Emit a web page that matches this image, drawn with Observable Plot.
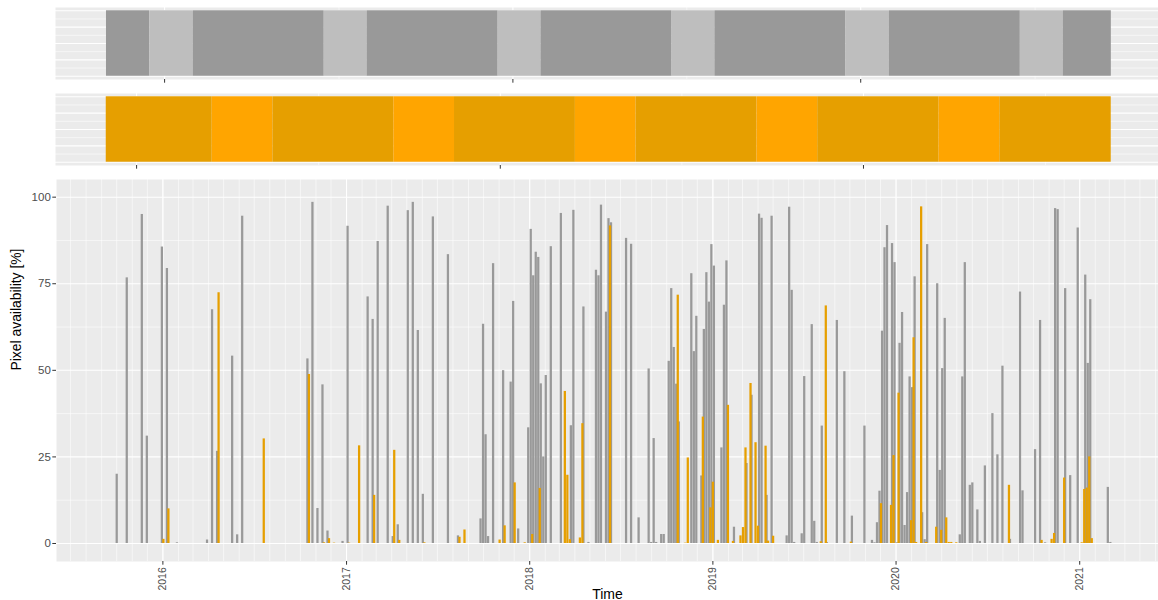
<!DOCTYPE html>
<html>
<head>
<meta charset="utf-8">
<script src="https://cdn.jsdelivr.net/npm/d3@7"></script>
<script src="https://cdn.jsdelivr.net/npm/@observablehq/plot@0.6"></script>
<style>
  body { margin: 0; background: #ffffff; }
  #chart svg { display: block; }
</style>
</head>
<body>
<div id="chart"></div>
<script>
// ---- Acquisition dates and pixel availability (%) -------------------------
const greyDates = [
  "2015-10-02","2015-10-22","2015-11-21","2015-12-01","2015-12-31","2016-01-10","2016-01-30",
  "2016-03-30","2016-04-09","2016-04-19","2016-05-19","2016-05-29","2016-06-08",
  "2016-10-16","2016-10-26","2016-11-05","2016-11-15","2016-11-25","2016-12-25",
  "2017-01-04","2017-02-13","2017-02-23","2017-03-05","2017-03-25","2017-04-04","2017-04-14",
  "2017-05-04","2017-05-14","2017-05-24","2017-06-03","2017-06-23","2017-07-23","2017-08-12",
  "2017-09-26","2017-10-01","2017-10-06","2017-10-11","2017-10-21","2017-11-10","2017-11-25",
  "2017-11-30","2017-12-10","2017-12-30",
  "2018-01-04","2018-01-09","2018-01-14","2018-01-19","2018-01-24","2018-01-29","2018-02-03",
  "2018-02-13","2018-03-05","2018-03-25","2018-03-30","2018-04-19","2018-04-29","2018-05-14",
  "2018-05-19","2018-05-24","2018-06-03","2018-06-08","2018-06-13","2018-07-13","2018-07-23",
  "2018-08-07","2018-08-27","2018-09-01","2018-09-06","2018-09-11","2018-09-21","2018-09-26",
  "2018-10-06","2018-10-11","2018-10-16","2018-10-21","2018-10-26","2018-11-20","2018-11-25",
  "2018-11-30","2018-12-10","2018-12-15","2018-12-20","2018-12-25","2018-12-30",
  "2019-01-04","2019-01-19","2019-01-24","2019-01-29","2019-02-13","2019-03-10","2019-03-20",
  "2019-04-04","2019-04-09","2019-04-19","2019-04-29","2019-05-29","2019-06-03","2019-06-08",
  "2019-06-13","2019-06-28","2019-07-03","2019-07-18","2019-07-23","2019-07-28","2019-08-07",
  "2019-08-17","2019-09-06","2019-09-21","2019-10-06","2019-10-31","2019-11-15","2019-11-20",
  "2019-11-25","2019-11-30","2019-12-05","2019-12-10","2019-12-15","2019-12-25","2019-12-30",
  "2020-01-04","2020-01-09","2020-01-14","2020-01-19","2020-01-24","2020-01-29","2020-02-03",
  "2020-02-08","2020-02-23","2020-02-28","2020-03-04","2020-03-24","2020-03-29","2020-04-03",
  "2020-04-08","2020-05-08","2020-05-13","2020-05-18","2020-05-28","2020-06-02","2020-06-12",
  "2020-06-17","2020-06-27","2020-07-12","2020-07-22","2020-08-01","2020-08-16","2020-09-05",
  "2020-09-10","2020-10-05","2020-10-15","2020-10-25","2020-11-14","2020-11-19","2020-12-04",
  "2020-12-14","2020-12-29",
  "2021-01-13","2021-01-18","2021-01-23","2021-02-27","2021-03-04"
];
const greyValues = [
  20.0, 76.7, 95.0, 31.0, 85.6, 79.4, 0.2,
  1.0, 67.5, 26.6, 54.1, 2.5, 94.5,
  53.3, 98.5, 10.1, 45.8, 3.6, 0.6,
  91.6, 71.2, 64.7, 87.2, 97.4, 2.0, 5.4,
  96.1, 98.5, 61.5, 14.2, 94.3, 83.4, 2.2,
  7.1, 63.3, 31.4, 2.0, 80.8, 49.9, 46.6,
  69.9, 4.2, 33.4,
  90.7, 77.3, 84.1, 82.6, 46.1, 25.0, 48.5,
  85.7, 95.3, 34.0, 96.2, 68.3, 0.3, 78.9,
  77.3, 97.7, 66.8, 93.8, 92.6, 88.1, 86.4,
  7.4, 50.4, 0.3, 30.3, 0.3, 2.6, 2.6,
  52.6, 73.6, 56.6, 46.0, 35.1, 77.9, 55.4,
  65.6, 19.5, 61.8, 78.2, 69.7, 86.3,
  80.1, 27.6, 68.8, 81.6, 4.7, 23.1, 42.8,
  95.1, 93.9, 13.9, 94.5, 2.2, 97.1, 73.1,
  0.3, 2.8, 48.2, 63.2, 6.4, 0.3, 33.9,
  0.3, 64.4, 49.6, 7.9, 33.9, 0.9, 0.2,
  6.0, 15.1, 61.3, 85.4, 91.8, 86.6, 81.1,
  0.2, 57.8, 66.7, 5.2, 14.7, 48.1, 45.0,
  77.0, 8.9, 1.1, 86.3, 75.0, 21.1, 50.5,
  65.0, 2.5, 48.1, 81.1, 16.8, 17.5, 9.7,
  0.6, 22.4, 37.5, 25.6, 51.2, 1.2, 72.6,
  15.2, 27.1, 64.4, 0.2, 96.7, 96.4, 73.6,
  19.6, 91.1,
  77.5, 52.0, 70.4, 16.2, 0.3
];

const orangeDates = [
  "2016-01-03","2016-01-13","2016-04-22","2016-07-21","2016-10-19","2016-11-18","2016-11-28",
  "2016-12-08","2017-01-07","2017-01-27","2017-02-26","2017-04-07","2017-04-17","2017-06-06",
  "2017-08-15","2017-08-25","2017-11-03","2017-11-13","2017-12-03","2017-12-23",
  "2018-01-07","2018-01-22","2018-03-13","2018-03-18","2018-03-23","2018-04-12","2018-04-17",
  "2018-06-11","2018-10-24","2018-11-08","2018-11-13","2018-12-13","2018-12-28",
  "2019-01-02","2019-01-12","2019-02-01","2019-02-11","2019-02-26","2019-03-03","2019-03-08",
  "2019-03-18","2019-03-28","2019-04-02","2019-04-17","2019-04-22","2019-05-02","2019-08-05",
  "2019-08-15","2019-10-04","2019-12-03","2019-12-23","2019-12-28",
  "2020-01-07","2020-02-01","2020-02-06","2020-02-11","2020-02-21","2020-03-02","2020-03-22",
  "2020-04-01","2020-04-11","2020-04-16","2020-04-21","2020-05-01","2020-08-14","2020-10-18",
  "2020-11-07","2020-11-12","2020-12-02",
  "2021-01-06","2021-01-11","2021-01-16","2021-01-21","2021-01-26"
];
const orangeValues = [
  1.2, 10.0, 72.4, 30.2, 48.8, 0.2, 1.4,
  0.1, 0.1, 28.2, 13.9, 26.9, 0.9, 0.2,
  1.8, 3.9, 1.0, 5.1, 17.5, 0.2,
  2.6, 15.9, 43.9, 19.7, 1.1, 1.6, 34.6,
  91.7, 71.7, 0.1, 24.7, 36.5, 10.3,
  17.7, 0.9, 39.9, 0.6, 2.2, 4.6, 27.6,
  46.2, 29.1, 5.0, 28.1, 0.7, 2.1, 0.5,
  68.6, 0.4, 11.5, 11.0, 25.4,
  43.4, 6.6, 59.4, 0.3, 97.2, 0.3, 4.7,
  3.8, 7.4, 0.3, 0.3, 0.2, 16.8, 0.9,
  1.2, 2.9, 18.9,
  0.2, 15.6, 16.0, 25.0, 1.4
];

// ---- Season strips ----------------------------------------------------------
// Winter (Dec–Feb) against the rest of the year
const winterEdges = [
  "2015-09-01","2015-12-01","2016-03-01","2016-12-01","2017-03-01","2017-12-01","2018-03-01",
  "2018-12-01","2019-03-01","2019-12-01","2020-03-01","2020-12-01","2021-03-01","2021-06-10"
];
const winterKinds = ["other","winter","other","winter","other","winter","other",
                     "winter","other","winter","other","winter","other"];

// Summer (Jun–Sep) against the rest of the year
const summerEdges = [
  "2015-11-01","2016-06-01","2016-10-01","2017-06-01","2017-10-01","2018-06-01",
  "2018-10-01","2019-06-01","2019-10-01","2020-06-01","2020-10-01","2021-05-13"
];
const summerKinds = ["other","summer","other","summer","other","summer",
                     "other","summer","other","summer","other"];

// ---- Axis text ---------------------------------------------------------------
const yTicks = [0, 25, 50, 75, 100];
const yMinorTicks = [12.5, 37.5, 62.5, 87.5];
const xTickYears = [2016, 2017, 2018, 2019, 2020, 2021];
const stripTickYears = [2016, 2018, 2020];
const stripMinorYears = [2017, 2019, 2021];
const yTitle = "Pixel availability [%]";
const xTitle = "Time";

// ---- Drawing -----------------------------------------------------------------
const parse = d3.utcParse("%Y-%m-%d");
const yearStart = y => new Date(Date.UTC(y, 0, 1));
const DAY = 864e5;
const HALF_BAR = 2.25 * DAY; // bars are 4.5 days wide

const W = 1158;
const FONT = "'Liberation Sans', Arial, Helvetica, sans-serif";
const PANEL_BG = "#EBEBEB";
const GRID = {stroke: "white", strokeOpacity: 1, strokeWidth: 1.07};
const GRID_MINOR = {stroke: "white", strokeOpacity: 1, strokeWidth: 0.55};

const greyBars = greyDates.map((d, i) => ({date: parse(d), value: greyValues[i]}));
const orangeBars = orangeDates.map((d, i) => ({date: parse(d), value: orangeValues[i]}));

function seasonStrip(edges, kinds, colors, domain) {
  const bands = kinds.map((k, i) => ({start: parse(edges[i]), end: parse(edges[i + 1]), kind: k}));
  return Plot.plot({
    width: W, height: 86,
    marginLeft: 55, marginRight: 0, marginTop: 7, marginBottom: 7,
    style: {fontFamily: FONT, background: "white", overflow: "visible"},
    x: {type: "utc", domain: domain.map(parse)},
    y: {domain: [-0.05, 1.05], axis: null},
    color: {type: "identity"},
    marks: [
      Plot.frame({fill: PANEL_BG, stroke: "none"}),
      Plot.gridY([0.125, 0.375, 0.625, 0.875], GRID_MINOR),
      Plot.gridY([0, 0.25, 0.5, 0.75, 1], GRID),
      Plot.gridX(stripMinorYears.map(yearStart), GRID_MINOR),
      Plot.gridX(stripTickYears.map(yearStart), GRID),
      Plot.rect(bands, {x1: "start", x2: "end", y1: 0, y2: 1, fill: d => colors[d.kind]}),
      Plot.axisX(stripTickYears.map(yearStart), {
        tickSize: 3.7, tickPadding: 2, tickFormat: () => "", stroke: "#333333", label: null
      })
    ]
  });
}

const winterStrip = seasonStrip(winterEdges, winterKinds,
  {other: "#999999", winter: "#BEBEBE"}, ["2015-05-17", "2021-09-17"]);
const summerStrip = seasonStrip(summerEdges, summerKinds,
  {other: "#E69F00", summer: "#FFA500"}, ["2015-07-22", "2021-08-16"]);

const mainDomain = ["2015-06-03", "2021-06-07"].map(parse);
const barX1 = d => new Date(+d.date - HALF_BAR);
const barX2 = d => new Date(+d.date + HALF_BAR);

const availability = Plot.plot({
  width: W, height: 428,
  marginLeft: 56, marginRight: 0, marginTop: 7, marginBottom: 39,
  style: {fontFamily: FONT, background: "white", overflow: "visible"},
  x: {type: "utc", domain: mainDomain},
  y: {domain: [-5.2, 105.1]},
  marks: [
    Plot.frame({fill: PANEL_BG, stroke: "none"}),
    Plot.gridY(yMinorTicks, GRID_MINOR),
    Plot.gridY(yTicks, GRID),
    Plot.gridX(d3.utcMonth.range(mainDomain[0], mainDomain[1]), GRID_MINOR),
    Plot.gridX(xTickYears.map(yearStart), GRID),
    Plot.rect(greyBars, {x1: barX1, x2: barX2, y1: 0, y2: "value", fill: "#999999"}),
    Plot.rect(orangeBars, {x1: barX1, x2: barX2, y1: 0, y2: "value", fill: "#E69F00"}),
    Plot.axisY(yTicks, {
      tickSize: 3.7, tickPadding: 2, stroke: "#333333", fill: "#4D4D4D",
      fontSize: 11.5, label: null
    }),
    Plot.axisX(xTickYears.map(yearStart), {
      tickSize: 3.7, tickPadding: 2, tickRotate: -90, tickFormat: d3.utcFormat("%Y"),
      stroke: "#333333", fill: "#4D4D4D", fontSize: 10.5, label: null
    }),
    Plot.text([yTitle], {
      text: d => d, frameAnchor: "left", dx: -40, rotate: -90,
      fontSize: 13.9, fill: "black"
    }),
    Plot.text([xTitle], {
      text: d => d, frameAnchor: "bottom", dy: 33, lineAnchor: "middle",
      fontSize: 14, fill: "black"
    })
  ]
});

const chart = document.getElementById("chart");
chart.append(winterStrip, summerStrip, availability);
</script>
</body>
</html>
